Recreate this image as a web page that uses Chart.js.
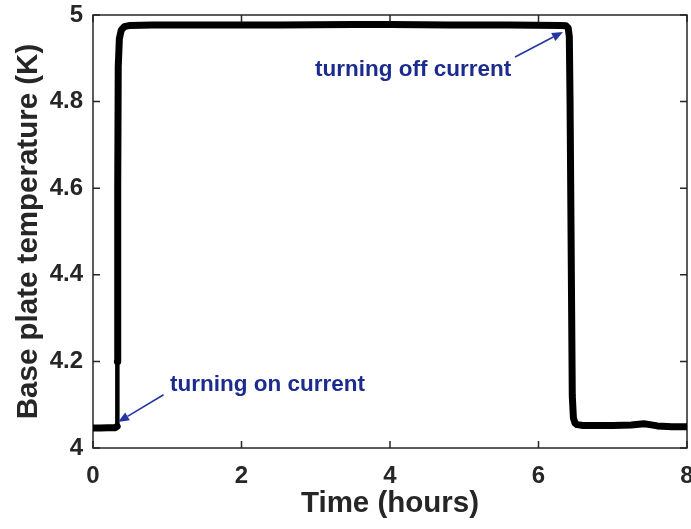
<!DOCTYPE html>
<html>
<head>
<meta charset="utf-8">
<title>Base plate temperature</title>
<script src="https://cdn.jsdelivr.net/npm/chart.js@4/dist/chart.umd.min.js"></script>
<style>
  html, body { margin: 0; padding: 0; background: #ffffff; }
  #wrap { position: relative; width: 691px; height: 529px; }
</style>
</head>
<body>
<div id="wrap"><canvas id="temp-chart"></canvas></div>
<script>
// Temps (heures) et température de la plaque de base (K)
const timeHours = [
    0, 0.1, 0.2, 0.30, 0.325, 0.328, 0.333, 0.34, 0.355, 0.38, 0.42, 0.5,
    0.8, 1.5, 2.5, 3.5, 4.0, 4.8, 5.6, 6.3, 6.37, 6.40, 6.415,
    6.425, 6.455, 6.47, 6.49, 6.52, 6.6,
    7.0, 7.25, 7.35, 7.42, 7.5, 7.6, 7.8, 8.0
];
const tempK = [
    4.046, 4.046, 4.047, 4.047, 4.05, 4.2, 4.6, 4.88, 4.945, 4.965, 4.973, 4.976,
    4.977, 4.977, 4.977, 4.978, 4.978, 4.977, 4.977, 4.976, 4.975, 4.97, 4.95,
    4.8, 4.12, 4.07, 4.058, 4.054, 4.052,
    4.052, 4.053, 4.055, 4.056, 4.054, 4.051, 4.049, 4.049
];

// Graduations des axes
const xTicks = [0, 2, 4, 6, 8];
const yTicks = [4, 4.2, 4.4, 4.6, 4.8, 5];

// Annotations : texte, position du texte, queue et pointe de la flèche
const noteTexts = ['turning on current', 'turning off current'];
const noteTextPos = [[1.037, 4.146], [2.99, 4.874]];
const noteArrowFrom = [[0.95, 4.123], [5.684, 4.903]];
const noteArrowTo = [[0.338, 4.06], [6.33, 4.961]];

const AXIS_COLOR = '#262626';
const NOTE_COLOR = '#1c2c8e';
const ARROW_COLOR = '#2436a2';

/**
 * Dessine le cadre et les graduations intérieures sur les quatre côtés
 */
const boxPlugin = {
    id: 'boxPlugin',
    beforeDatasetsDraw(chart) {
        const { ctx, chartArea: a, scales } = chart;
        const len = 7;
        ctx.save();
        ctx.strokeStyle = AXIS_COLOR;
        ctx.lineWidth = 1.5;
        ctx.strokeRect(a.left, a.top, a.right - a.left, a.bottom - a.top);
        ctx.beginPath();
        xTicks.forEach(v => {
            const px = scales.x.getPixelForValue(v);
            ctx.moveTo(px, a.bottom); ctx.lineTo(px, a.bottom - len);
            ctx.moveTo(px, a.top); ctx.lineTo(px, a.top + len);
        });
        yTicks.forEach(v => {
            const py = scales.y.getPixelForValue(v);
            ctx.moveTo(a.left, py); ctx.lineTo(a.left + len, py);
            ctx.moveTo(a.right, py); ctx.lineTo(a.right - len, py);
        });
        ctx.stroke();
        ctx.restore();
    }
};

/**
 * Dessine les flèches et les textes d'annotation
 */
const notesPlugin = {
    id: 'notesPlugin',
    afterDraw(chart) {
        const { ctx, scales } = chart;
        ctx.save();
        noteTexts.forEach((text, i) => {
            const x0 = scales.x.getPixelForValue(noteArrowFrom[i][0]);
            const y0 = scales.y.getPixelForValue(noteArrowFrom[i][1]);
            const x1 = scales.x.getPixelForValue(noteArrowTo[i][0]);
            const y1 = scales.y.getPixelForValue(noteArrowTo[i][1]);
            const ang = Math.atan2(y1 - y0, x1 - x0);
            const head = 11, half = 4.5;
            const bx = x1 - head * Math.cos(ang);
            const by = y1 - head * Math.sin(ang);

            ctx.strokeStyle = ARROW_COLOR;
            ctx.fillStyle = ARROW_COLOR;
            ctx.lineWidth = 1.6;
            ctx.beginPath();
            ctx.moveTo(x0, y0);
            ctx.lineTo(bx, by);
            ctx.stroke();

            ctx.beginPath();
            ctx.moveTo(x1, y1);
            ctx.lineTo(bx + half * Math.sin(ang), by - half * Math.cos(ang));
            ctx.lineTo(bx - half * Math.sin(ang), by + half * Math.cos(ang));
            ctx.closePath();
            ctx.fill();

            ctx.fillStyle = NOTE_COLOR;
            ctx.font = 'bold 22.5px "Liberation Sans", Arial, sans-serif';
            ctx.textAlign = 'left';
            ctx.textBaseline = 'middle';
            ctx.fillText(text,
                scales.x.getPixelForValue(noteTextPos[i][0]),
                scales.y.getPixelForValue(noteTextPos[i][1]));
        });
        ctx.restore();
    }
};

function initTempChart() {
    const ctx = document.getElementById('temp-chart').getContext('2d');
    const tickFont = { family: '"Liberation Sans", Arial, sans-serif', size: 24, weight: 'bold' };
    const titleFont = { family: '"Liberation Sans", Arial, sans-serif', size: 29.5, weight: 'bold', lineHeight: 1.2 };

    new Chart(ctx, {
        type: 'line',
        data: {
            datasets: [{
                data: timeHours.map((t, i) => ({ x: t, y: tempK[i] })),
                borderColor: '#000000',
                borderWidth: 7,
                borderJoinStyle: 'round',
                borderCapStyle: 'round',
                pointRadius: 0,
                tension: 0,
                fill: false,
                // début de la montée plus fin
                segment: {
                    borderWidth: c => (c.p0DataIndex === 4 ? 4.5 : 7)
                }
            }]
        },
        options: {
            responsive: false,
            animation: false,
            devicePixelRatio: 1,
            layout: { padding: { left: 0, right: 4, top: 15, bottom: 0 } },
            plugins: {
                legend: { display: false },
                tooltip: { enabled: false }
            },
            scales: {
                x: {
                    type: 'linear',
                    min: 0,
                    max: 8,
                    afterBuildTicks: s => { s.ticks = xTicks.map(v => ({ value: v })); },
                    afterFit: s => { s.height = 81; s.paddingLeft = 0; s.paddingRight = 0; },
                    grid: { display: false, drawTicks: false },
                    border: { display: false },
                    ticks: { color: AXIS_COLOR, font: tickFont, padding: 14, maxRotation: 0 },
                    title: {
                        display: true,
                        text: 'Time (hours)',
                        color: AXIS_COLOR,
                        font: titleFont,
                        padding: { top: 0, bottom: 7 }
                    }
                },
                y: {
                    type: 'linear',
                    min: 4,
                    max: 5,
                    afterBuildTicks: s => { s.ticks = yTicks.map(v => ({ value: v })); },
                    afterFit: s => { s.width = 93; s.paddingTop = 0; s.paddingBottom = 0; },
                    grid: { display: false, drawTicks: false },
                    border: { display: false },
                    ticks: {
                        color: AXIS_COLOR,
                        font: tickFont,
                        padding: 10,
                        callback: v => String(Math.round(v * 10) / 10)
                    },
                    title: {
                        display: true,
                        text: 'Base plate temperature (K)',
                        color: AXIS_COLOR,
                        font: titleFont,
                        padding: { top: 11, bottom: 0 }
                    }
                }
            }
        },
        plugins: [boxPlugin, notesPlugin]
    });
}

const canvas = document.getElementById('temp-chart');
canvas.width = 691;
canvas.height = 529;
initTempChart();
</script>
</body>
</html>
